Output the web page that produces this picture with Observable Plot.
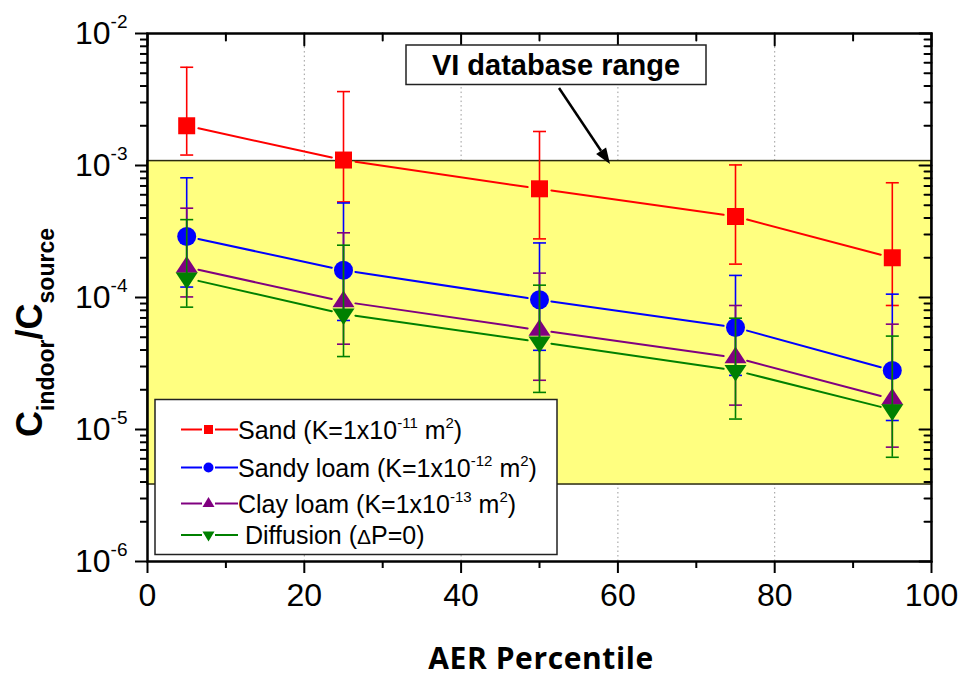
<!DOCTYPE html>
<html>
<head>
<meta charset="utf-8">
<script src="https://cdn.jsdelivr.net/npm/d3@7"></script>
<script src="https://cdn.jsdelivr.net/npm/@observablehq/plot@0.6"></script>
<style>
  body { margin: 0; background: white; }
  svg { display: block; }
</style>
</head>
<body>
<script>
// ---------- data ----------
const xs = [5, 25, 50, 75, 95];
const seriesNames = ["Sand", "Sandy loam", "Clay loam", "Diffusion"];
const seriesColors = ["#ff0000", "#0000ff", "#800080", "#008000"];

const sand   = [2.0e-3, 1.10e-3, 6.66e-4, 4.11e-4, 2.0e-4];
const sandHi = [5.55e-3, 3.63e-3, 1.81e-3, 1.01e-3, 7.4e-4];
const sandLo = [1.2e-3, 5.3e-4, 2.78e-4, 1.79e-4, 8.7e-5];

const loam   = [2.9e-4, 1.61e-4, 9.6e-5, 5.93e-5, 2.8e-5];
const loamHi = [8.07e-4, 5.2e-4, 2.59e-4, 1.47e-4, 1.06e-4];
const loamLo = [1.2e-4, 6.7e-5, 3.98e-5, 2.57e-5, 1.17e-5];

const clay   = [1.7e-4, 9.3e-5, 5.66e-5, 3.5e-5, 1.7e-5];
const clayHi = [4.75e-4, 3.09e-4, 1.53e-4, 8.7e-5, 6.28e-5];
const clayLo = [1.01e-4, 4.43e-5, 2.36e-5, 1.53e-5, 7.35e-6];

const diff   = [1.4e-4, 7.5e-5, 4.6e-5, 2.8e-5, 1.41e-5];
const diffHi = [3.89e-4, 2.49e-4, 1.24e-4, 6.97e-5, 5.1e-5];
const diffLo = [8.45e-5, 3.57e-5, 1.91e-5, 1.2e-5, 6.16e-6];

const vdbRange = [3.83e-6, 1.08e-3]; // VI database range (low, high)

const xDomain = [0, 100];
const yDomain = [1e-6, 1e-2];
const xMajor = [0, 20, 40, 60, 80, 100];
const xMinor = [10, 30, 50, 70, 90];
const xGrid = [20, 40, 60, 80];
const yMajor = [1e-6, 1e-5, 1e-4, 1e-3, 1e-2];
const yMinor = [];
for (let e = -6; e < -2; e++) for (let m = 2; m <= 9; m++) yMinor.push(m * Math.pow(10, e));

const xTitle = "AER Percentile";
const annotation = "VI database range";

// ---------- symbols ----------
const symSquare = {draw(c) { c.moveTo(-8.5, -8.5); c.lineTo(8.5, -8.5); c.lineTo(8.5, 8.5); c.lineTo(-8.5, 8.5); c.closePath(); }};
const symCircle = {draw(c) { c.moveTo(9.5, 0); c.arc(0, 0, 9.5, 0, 2 * Math.PI); }};
const symUp = {draw(c) { c.moveTo(0, -11.1); c.lineTo(11, 5.6); c.lineTo(-11, 5.6); c.closePath(); }};
const symDown = {draw(c) { c.moveTo(0, 11.1); c.lineTo(11, -5.6); c.lineTo(-11, -5.6); c.closePath(); }};
const symCap = {draw(c) { c.moveTo(-6.5, 0); c.lineTo(6.5, 0); }};
const symbols = [symSquare, symCircle, symUp, symDown];
const tickShape = {draw(c, l) { c.moveTo(0, 0); c.lineTo(0, -l); }};

const values = [[sand, sandHi, sandLo], [loam, loamHi, loamLo], [clay, clayHi, clayLo], [diff, diffHi, diffLo]];

const seriesMarks = [];
values.forEach(([v, hi, lo], s) => {
  const color = seriesColors[s];
  const rows = xs.map((x, i) => ({x, y: v[i], hi: hi[i], lo: lo[i]}));
  const segs = rows.slice(1).map((d, i) => ({x1: rows[i].x, y1: rows[i].y, x2: d.x, y2: d.y}));
  seriesMarks.push(
    Plot.arrow(segs, {x1: "x1", y1: "y1", x2: "x2", y2: "y2", stroke: color, strokeWidth: 2,
      headLength: 0, insetStart: 12, insetEnd: 12}),
    Plot.dot(rows, {x: "x", y: "y", symbol: symbols[s], fill: color, stroke: "none", r: 9}),
    Plot.ruleX(rows, {x: "x", y1: "lo", y2: "hi", stroke: color, strokeWidth: 1.6}),
    Plot.dot(rows, {x: "x", y: "hi", symbol: symCap, stroke: color, fill: "none", strokeWidth: 1.6}),
    Plot.dot(rows, {x: "x", y: "lo", symbol: symCap, stroke: color, fill: "none", strokeWidth: 1.6})
  );
});

const band = [{lo: vdbRange[0], hi: vdbRange[1]}];
const gridStyle = {stroke: "#999", strokeOpacity: 1, strokeWidth: 1, strokeDasharray: "1.5,3"};
const tickStyle = {stroke: "black", strokeWidth: 2, anchor: "start", shape: tickShape};

const chart = Plot.plot({
  width: 961,
  height: 677,
  marginLeft: 147,
  marginRight: 30,
  marginTop: 33,
  marginBottom: 116,
  style: {fontFamily: "'Liberation Sans', Arial, sans-serif", background: "white", color: "black"},
  x: {domain: xDomain},
  y: {type: "log", domain: yDomain},
  marks: [
    // dotted grid only outside the yellow band
    Plot.gridX(xGrid, {...gridStyle, y1: vdbRange[1], y2: yDomain[1]}),
    Plot.gridX(xGrid, {...gridStyle, y1: yDomain[0], y2: vdbRange[0]}),
    Plot.rect(band, {x1: () => xDomain[0], x2: () => xDomain[1], y1: "lo", y2: "hi",
      fill: "#ffff80", stroke: "#2a2a10", strokeWidth: 1.5}),
    ...seriesMarks,
    // bottom axis
    Plot.axisX(xMajor, {anchor: "bottom", tickSize: 12, tickPadding: 10, fontSize: 32, strokeWidth: 2, label: null}),
    Plot.axisX(xMinor, {anchor: "bottom", tickSize: 7, tickFormat: () => "", strokeWidth: 2, label: null}),
    // top axis (inward ticks)
    Plot.vector(xMajor, {x: d => d, frameAnchor: "top", length: 12, rotate: 180, ...tickStyle}),
    Plot.vector(xMinor, {x: d => d, frameAnchor: "top", length: 7, rotate: 180, ...tickStyle}),
    // left axis
    Plot.axisY(yMajor, {anchor: "left", tickSize: 12, tickPadding: 8, fontSize: 32, strokeWidth: 2, label: null,
      tickFormat: d => "10|" + Math.round(Math.log10(d))}),
    Plot.axisY(yMinor, {anchor: "left", tickSize: 7, tickFormat: () => "", strokeWidth: 2, label: null}),
    // right axis (inward ticks)
    Plot.vector(yMajor, {y: d => d, frameAnchor: "right", length: 12, rotate: -90, ...tickStyle}),
    Plot.vector(yMinor, {y: d => d, frameAnchor: "right", length: 7, rotate: -90, ...tickStyle}),
    Plot.frame({stroke: "black", strokeWidth: 2.5})
  ]
});

document.body.appendChild(chart);
const svg = d3.select(chart.tagName === "svg" ? chart : chart.querySelector("svg"));

// superscripts on y tick labels
svg.selectAll("text").each(function () {
  const s = this.textContent;
  if (!s.includes("|")) return;
  const [b, e] = s.split("|");
  this.textContent = b;
  d3.select(this).append("tspan").attr("dy", -16).attr("font-size", 19).text(e);
});

const FONT = "'Liberation Sans', Arial, sans-serif";

// y-axis title
const yt = svg.append("text")
  .attr("transform", "translate(42,437) rotate(-90)")
  .attr("text-anchor", "start")
  .attr("font-family", FONT).attr("font-weight", "bold").attr("fill", "black");
yt.append("tspan").attr("font-size", 36).text("C");
yt.append("tspan").attr("font-size", 23).attr("dy", 12).text("indoor");
yt.append("tspan").attr("font-size", 36).attr("dy", -12).text("/C");
yt.append("tspan").attr("font-size", 23).attr("dy", 12).text("source");

// x-axis title
svg.append("text").attr("x", 541).attr("y", 669).attr("text-anchor", "middle")
  .attr("font-family", "'Open Sans', sans-serif").attr("font-weight", 700)
  .attr("font-size", 30).attr("letter-spacing", 0.6).attr("fill", "black").text(xTitle);

// annotation box + arrow
svg.append("rect").attr("x", 406).attr("y", 45).attr("width", 300).attr("height", 39.5)
  .attr("fill", "white").attr("stroke", "#222").attr("stroke-width", 1.5);
svg.append("text").attr("x", 556).attr("y", 75).attr("text-anchor", "middle")
  .attr("font-family", FONT).attr("font-weight", "bold").attr("font-size", 29).attr("fill", "black").text(annotation);
svg.append("line").attr("x1", 559).attr("y1", 88).attr("x2", 601).attr("y2", 150.7)
  .attr("stroke", "black").attr("stroke-width", 2.5);
svg.append("path").attr("d", "M610,164 L596.1,154 L606.1,147.4 Z").attr("fill", "black");

// legend
const lg = svg.append("g").attr("text-anchor", "start");
lg.append("rect").attr("x", 155).attr("y", 399.5).attr("width", 402).attr("height", 155)
  .attr("fill", "white").attr("stroke", "#222").attr("stroke-width", 1.5);
const legendSyms = [
  "M-4.5,-4.5H4.5V4.5H-4.5Z",
  "M5,0A5,5 0 1,1 -5,0A5,5 0 1,1 5,0Z",
  "M0,-6.5L6,3.5L-6,3.5Z",
  "M0,6.5L6,-3.5L-6,-3.5Z"
];
const legendY = [429.5, 467.5, 503.5, 535];
const legendText = [
  [["Sand (K=1x10", 0], ["-11", 1], [" m", 0], ["2", 1], [")", 0]],
  [["Sandy loam (K=1x10", 0], ["-12", 1], [" m", 0], ["2", 1], [")", 0]],
  [["Clay loam (K=1x10", 0], ["-13", 1], [" m", 0], ["2", 1], [")", 0]],
  [["\u00a0Diffusion (", 0], ["Δ", 2], ["P=0)", 0]]
];
seriesNames.forEach((name, i) => {
  const y = legendY[i], c = seriesColors[i];
  lg.append("line").attr("x1", 181).attr("x2", 202).attr("y1", y).attr("y2", y).attr("stroke", c).attr("stroke-width", 2);
  lg.append("line").attr("x1", 215).attr("x2", 238).attr("y1", y).attr("y2", y).attr("stroke", c).attr("stroke-width", 2);
  lg.append("path").attr("transform", `translate(208.5,${y})`).attr("d", legendSyms[i]).attr("fill", c);
  const t = lg.append("text").attr("x", 238).attr("y", y + 9).attr("text-anchor", "start")
    .attr("font-family", FONT).attr("font-size", 25)
    .attr("fill", "black").style("white-space", "pre");
  let shifted = false;
  legendText[i].forEach(([s, kind]) => {
    const ts = t.append("tspan").text(s);
    if (kind === 1) { ts.attr("font-size", 15).attr("dy", shifted ? 0 : -11); shifted = true; }
    else if (kind === 2) { ts.attr("font-size", 21); if (shifted) { ts.attr("dy", 11); shifted = false; } }
    else if (shifted) { ts.attr("dy", 11); shifted = false; }
  });
});
</script>
</body>
</html>
